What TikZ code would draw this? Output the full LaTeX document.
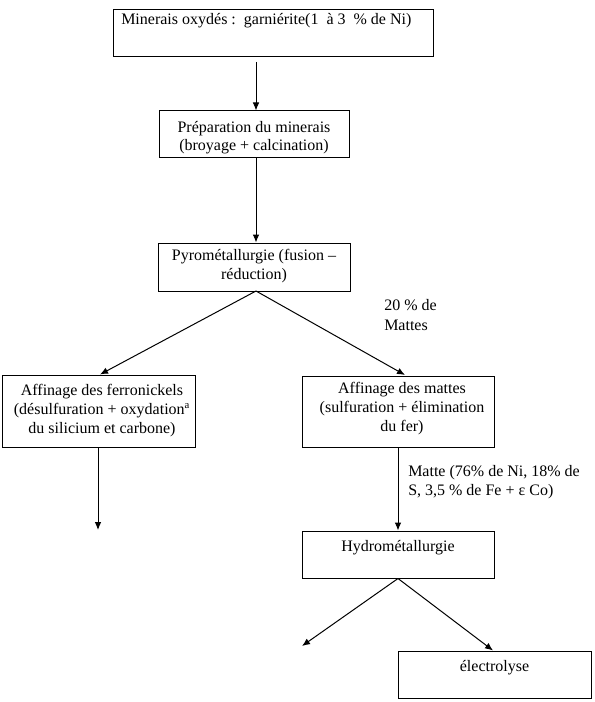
\documentclass[tikz,border=0pt]{standalone}
\usepackage{fontspec}
\setmainfont{Liberation Serif}
\usetikzlibrary{arrows.meta}
\tikzset{
  px/.style={x=0.75pt,y=-0.75pt},
  box/.style={draw,line width=0.75pt,inner sep=0pt},
  txt/.style={inner sep=0pt,font=\fontsize{12}{14}\selectfont,align=center},
  ltxt/.style={inner sep=0pt,font=\fontsize{12}{14.3}\selectfont,align=left,anchor=west},
  arr/.style={line width=0.75pt,-{Latex[length=6pt,width=5pt]}},
}
\begin{document}
\begin{tikzpicture}[px]
\useasboundingbox (0,0) rectangle (594,702);
% boxes
\node[box,minimum width=240pt,minimum height=35.25pt] (b1) at (273,33.5) {};
\node[box,minimum width=142.5pt,minimum height=35.25pt] (b2) at (254,134.5) {};
\node[box,minimum width=144pt,minimum height=36pt] (b3) at (254,267) {};
\node[box,minimum width=144.75pt,minimum height=54pt] (b4) at (98.5,411) {};
\node[box,minimum width=144pt,minimum height=53.25pt] (b5) at (398,411.5) {};
\node[box,minimum width=144pt,minimum height=35.25pt] (b6) at (398,554.5) {};
\node[box,minimum width=144.75pt,minimum height=35.25pt] (b7) at (494.5,674.5) {};
% texts
\node[ltxt] (t1) at (121,21) {Minerais oxydés :\ \ garniérite(1\ \ à 3\ \ \% de Ni)};
\node[txt] (t2) at (254,137.5) {Préparation du minerais\\(broyage + calcination)};
\node[txt] (t3) at (254,266) {Pyrométallurgie (fusion –\\réduction)};
\node[txt] (t4) at (102,410.5) {Affinage des ferronickels\\(désulfuration + oxydation\textsuperscript{a}\\du silicium et carbone)};
\node[txt] (t5) at (402,408.5) {Affinage des mattes\\(sulfuration + élimination\\du fer)};
\node[txt] (t6) at (398,548) {Hydrométallurgie};
\node[txt] (t7) at (494.5,668) {électrolyse};
\node[ltxt] (l1) at (384,315) {20 \% de\\Mattes};
\node[ltxt] (l2) at (408,482.5) {Matte (76\% de Ni, 18\% de\\S, 3,5 \% de Fe + ε Co)};
% connectors
\coordinate (s1) at (256,62);
\draw[arr] (s1) -- (s1 |- b2.north);
\coordinate (s2) at (256,158);
\draw[arr] (s2) -- (s2 |- b3.north);
\coordinate (s3) at (256,291);
\coordinate (e4) at (100,374.5);
\coordinate (e5) at (405,375);
\draw[arr] (s3) -- (e4);
\draw[arr] (s3) -- (e5);
\coordinate (e6) at (98,530);
\draw[arr] (b4.south -| e6) -- (e6);
\draw[arr] (b5.south) -- (b6.north);
\coordinate (f1) at (302,646);
\coordinate (f2) at (493,650.5);
\draw[arr] (b6.south) -- (f1);
\draw[arr] (b6.south) -- (f2);
\end{tikzpicture}
\end{document}
